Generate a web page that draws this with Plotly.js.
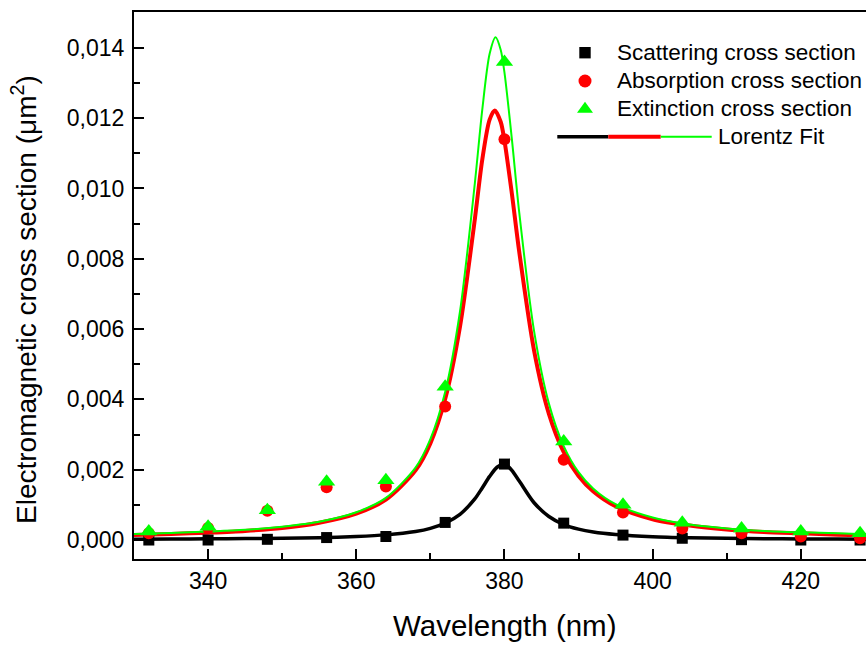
<!DOCTYPE html>
<html>
<head>
<meta charset="utf-8">
<script src="https://cdn.plot.ly/plotly-3.0.1.min.js"></script>
<style>html,body{margin:0;padding:0;background:#fff;}#chart{width:866px;height:645px;}</style>
</head>
<body>
<div id="chart"></div>
<script>
// ---- data ----
const wavelength = [332, 340, 348, 356, 364, 372, 380, 388, 396, 404, 412, 420, 428];
const scattering = [0.00000, 0.00000, 0.00002, 0.00007, 0.00010, 0.00050, 0.00216, 0.00048, 0.00014, 0.00005, 0.00001, 0.00000, 0.00000];
const absorption = [0.00019, 0.00034, 0.00083, 0.00150, 0.00152, 0.00380, 0.01140, 0.00228, 0.00078, 0.00033, 0.00019, 0.00010, 0.00005];
const extinction = [0.00024, 0.00038, 0.00085, 0.00166, 0.00170, 0.00436, 0.01360, 0.00280, 0.00100, 0.00049, 0.00033, 0.00024, 0.00019];

const fitScatX = [330, 335, 340, 345, 350, 355, 360, 364, 368, 370, 372, 374, 376, 377, 378, 379, 379.8, 380.5, 381, 382, 384, 386, 388, 390, 392, 395, 400, 405, 410, 415, 420, 425, 430];
const fitScatY = [0.000025, 0.000028, 0.000033, 0.00004, 0.00005, 0.000068, 0.0001, 0.000146, 0.00024, 0.00033, 0.00048, 0.00073, 0.00117, 0.00148, 0.00181, 0.00207, 0.00215, 0.00209, 0.00198, 0.00168, 0.00106, 0.00067, 0.00044, 0.00031, 0.00023, 0.00016, 0.000096, 0.000066, 0.000049, 0.000039, 0.000032, 0.000028, 0.000024];

const fitAbsX = [330, 335, 340, 345, 350, 355, 360, 364, 368, 370, 372, 374, 376, 377, 378, 378.7, 379.5, 380, 381, 382, 384, 386, 388, 390, 392, 395, 400, 405, 410, 415, 420, 425, 430];
const fitAbsY = [0.00014, 0.00017, 0.00021, 0.00026, 0.00034, 0.00049, 0.00075, 0.00115, 0.00198, 0.00275, 0.00401, 0.00607, 0.00912, 0.01081, 0.01196, 0.01222, 0.01189, 0.01136, 0.00986, 0.00819, 0.00539, 0.00359, 0.0025, 0.00182, 0.00138, 0.00096, 0.00059, 0.00041, 0.0003, 0.00023, 0.00019, 0.00015, 0.00013];

const fitExtX = [330, 335, 340, 345, 350, 355, 360, 364, 368, 370, 372, 374, 376, 377, 378, 378.8, 379.5, 380, 381, 382, 384, 386, 388, 390, 392, 395, 400, 405, 410, 415, 420, 425, 430];
const fitExtY = [0.00017, 0.0002, 0.00024, 0.00029, 0.00038, 0.00052, 0.00079, 0.0012, 0.00206, 0.00287, 0.00421, 0.0065, 0.01014, 0.01223, 0.01383, 0.0143, 0.01394, 0.0133, 0.01141, 0.00931, 0.00594, 0.00388, 0.00267, 0.00193, 0.00146, 0.00102, 0.00064, 0.00044, 0.00033, 0.00026, 0.00022, 0.00019, 0.00016];

const xTickVals = [340, 360, 380, 400, 420];
const legendNames = ['Scattering cross section', 'Absorption cross section', 'Extinction cross section', 'Lorentz Fit'];
const xTitle = 'Wavelength (nm)';
const yTitle = 'Electromagnetic cross section (\u03bcm<sup>2</sup>)';

// ---- styling / layout ----
const BLACK = '#000000', RED = '#ff0000', GREEN = '#00ff00';
const FONT = 'Liberation Sans, Arial, sans-serif';
const W = 866, H = 645, L = 134, R = 0, T = 12, B = 86;
const PW = W - L - R, PH = H - T - B;
const px = v => (v - L) / PW;           // pixel x -> paper x
const py = v => (H - B - v) / PH;        // pixel y -> paper y

const traces = [
  {x: fitScatX, y: fitScatY, mode: 'lines', line: {color: BLACK, width: 3.5, shape: 'spline', smoothing: 0.8}, showlegend: false, hoverinfo: 'skip'},
  {x: fitAbsX, y: fitAbsY, mode: 'lines', line: {color: RED, width: 4, shape: 'spline', smoothing: 0.8}, showlegend: false, hoverinfo: 'skip'},
  {x: fitExtX, y: fitExtY, mode: 'lines', line: {color: GREEN, width: 2, shape: 'spline', smoothing: 0.8}, showlegend: false, hoverinfo: 'skip'},
  {x: wavelength, y: scattering, mode: 'markers', name: legendNames[0], marker: {symbol: 'square', size: 11, color: BLACK}, showlegend: false},
  {x: wavelength, y: absorption, mode: 'markers', name: legendNames[1], marker: {symbol: 'circle', size: 12, color: RED}, showlegend: false},
  {x: wavelength, y: extinction, mode: 'markers', name: legendNames[2], marker: {symbol: 'triangle-up', size: 15, color: GREEN}, showlegend: false}
];

// custom legend (shapes + text)
const lx = 585;
const shapes = [
  {type: 'rect', xref: 'paper', yref: 'paper', x0: px(lx - 5.7), x1: px(lx + 5.7), y0: py(47), y1: py(58.4), fillcolor: BLACK, line: {width: 0}},
  {type: 'circle', xref: 'paper', yref: 'paper', x0: px(lx - 6.5), x1: px(lx + 6.5), y0: py(74.5), y1: py(87.5), fillcolor: RED, line: {width: 0}},
  {type: 'path', xref: 'paper', yref: 'paper',
   path: 'M ' + px(lx - 8) + ' ' + py(112.7) + ' L ' + px(lx + 8) + ' ' + py(112.7) + ' L ' + px(lx) + ' ' + py(101.7) + ' Z',
   fillcolor: GREEN, line: {width: 0}},
  {type: 'line', xref: 'paper', yref: 'paper', x0: px(557.3), x1: px(608.3), y0: py(136.7), y1: py(136.7), line: {color: BLACK, width: 3.5}},
  {type: 'line', xref: 'paper', yref: 'paper', x0: px(608.3), x1: px(660.7), y0: py(136.7), y1: py(136.7), line: {color: RED, width: 4}},
  {type: 'line', xref: 'paper', yref: 'paper', x0: px(660.7), x1: px(711.7), y0: py(136.7), y1: py(136.7), line: {color: GREEN, width: 2}}
];

const legFont = {family: FONT, size: 22.5, color: BLACK};
const annotations = [
  {text: legendNames[0], x: px(615), y: py(52.3), xref: 'paper', yref: 'paper', xanchor: 'left', yanchor: 'middle', showarrow: false, font: legFont},
  {text: legendNames[1], x: px(615), y: py(80.3), xref: 'paper', yref: 'paper', xanchor: 'left', yanchor: 'middle', showarrow: false, font: legFont},
  {text: legendNames[2], x: px(615), y: py(108.3), xref: 'paper', yref: 'paper', xanchor: 'left', yanchor: 'middle', showarrow: false, font: legFont},
  {text: legendNames[3], x: px(716), y: py(136.3), xref: 'paper', yref: 'paper', xanchor: 'left', yanchor: 'middle', showarrow: false, font: legFont},
  {text: xTitle, x: px(505), y: py(625), xref: 'paper', yref: 'paper', xanchor: 'center', yanchor: 'middle', showarrow: false, font: {family: FONT, size: 29.5, color: BLACK}},
  {text: yTitle, x: px(24), y: py(300), xref: 'paper', yref: 'paper', xanchor: 'center', yanchor: 'middle', textangle: -90, showarrow: false, font: {family: FONT, size: 28, color: BLACK}}
];

const layout = {
  width: W, height: H,
  margin: {l: L, r: R, t: T, b: B, pad: 0},
  paper_bgcolor: '#ffffff', plot_bgcolor: '#ffffff',
  showlegend: false,
  separators: ', ',
  font: {family: FONT, size: 23, color: BLACK},
  xaxis: {
    range: [330, 428.8], tickvals: xTickVals, ticks: 'inside', ticklen: 10, tickwidth: 2, tickcolor: BLACK,
    showline: true, linewidth: 2, linecolor: BLACK, mirror: true, showgrid: false, zeroline: false,
    tickfont: {family: FONT, size: 23, color: BLACK},
    minor: {dtick: 10, tick0: 330, ticks: 'inside', ticklen: 6, tickwidth: 2, tickcolor: BLACK, showgrid: false}
  },
  yaxis: {
    range: [-0.00054, 0.01502], dtick: 0.002, tick0: 0, tickformat: '.3f', ticks: 'inside', ticklen: 10, tickwidth: 2, tickcolor: BLACK,
    showline: true, linewidth: 2, linecolor: BLACK, mirror: false, showgrid: false, zeroline: false,
    ticklabelstandoff: 3,
    tickfont: {family: FONT, size: 23, color: BLACK},
    minor: {dtick: 0.001, tick0: 0, ticks: 'inside', ticklen: 6, tickwidth: 2, tickcolor: BLACK, showgrid: false}
  },
  shapes: shapes,
  annotations: annotations
};

Plotly.newPlot('chart', traces, layout, {staticPlot: true, displayModeBar: false});
</script>
</body>
</html>
